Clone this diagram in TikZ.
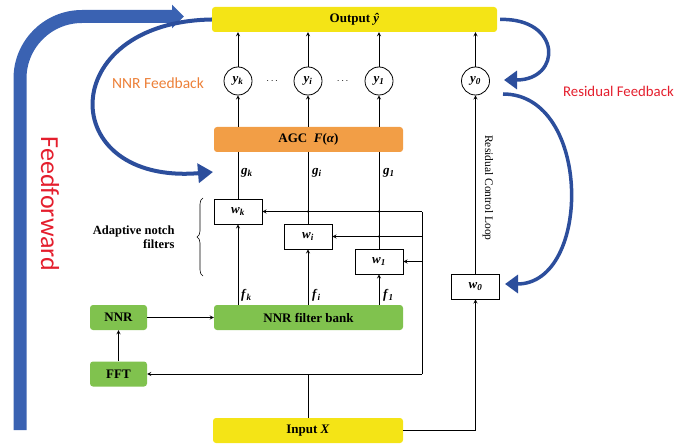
\documentclass[tikz,border=0pt]{standalone}
\usepackage{fontspec}
\setmainfont{Liberation Serif}
\newfontfamily\calibri{Carlito}
\usepackage{amsmath}
\usetikzlibrary{arrows.meta, calc, positioning, decorations.pathreplacing}
\tikzset{>=stealth}
\definecolor{ffblue}{RGB}{58,98,178}
\definecolor{fbblue}{RGB}{44,78,156}
\definecolor{boxyellow}{RGB}{244,228,22}
\definecolor{agcorange}{RGB}{242,158,70}
\definecolor{bankgreen}{RGB}{128,194,78}
\definecolor{nnrorange}{RGB}{236,128,56}
\definecolor{resred}{RGB}{228,30,45}
\newcommand{\vsub}[2]{\textit{#1}\textsubscript{\textit{#2}}}
\tikzset{
  bar/.style={rounded corners=3pt, minimum height=25pt, inner sep=0pt, font=\fontsize{13}{15}\selectfont\bfseries},
  wbox/.style={draw, line width=0.8pt, minimum width=48pt, minimum height=25pt, inner sep=0pt, font=\fontsize{13}{15}\selectfont\bfseries},
  ycirc/.style={draw, line width=0.8pt, circle, minimum size=28pt, inner sep=0pt, font=\fontsize{13}{15}\selectfont\bfseries},
  lbl/.style={inner sep=0pt, font=\fontsize{13}{15}\selectfont\bfseries},
  sig/.style={->, line width=0.8pt},
  wire/.style={line width=0.8pt},
  bigarrow/.style={fbblue, line width=3.5pt, -{Triangle[length=13pt,width=18pt]}}
}

\begin{document}
\begin{tikzpicture}[x=1pt, y=-1pt]
\useasboundingbox (0,0) rectangle (676,446);

% boxes
\node[bar, fill=boxyellow, minimum width=285pt] (out) at (354.5,19.5) {Output \textit{ŷ}};
\node[bar, fill=agcorange, minimum width=189pt] (agc) at (308.5,139.5) {AGC\ \ \textit{F}(\textit{α})};
\node[bar, fill=bankgreen, minimum width=189pt] (bank) at (308.5,317.5) {NNR filter bank};
\node[bar, fill=bankgreen, minimum width=57pt] (nnr) at (118.5,317.5) {NNR};
\node[bar, fill=bankgreen, minimum width=57pt] (fft) at (118.5,374) {FFT};
\node[bar, fill=boxyellow, minimum width=190pt] (in) at (308,430.5) {Input \textit{X}};

% weights
\node[wbox] (wk) at (238,211.5) {\vsub{w}{k}};
\node[wbox] (wi) at (308,236.5) {\vsub{w}{i}};
\node[wbox] (w1) at (379,261.5) {\vsub{w}{1}};
\node[wbox] (w0) at (475.5,286.5) {\vsub{w}{0}};

% outputs
\node[ycirc] (yk) at (238,81) {\vsub{y}{k}};
\node[ycirc] (yi) at (308,81) {\vsub{y}{i}};
\node[ycirc] (y1) at (379,81) {\vsub{y}{1}};
\node[ycirc] (y0) at (475.5,81) {\vsub{y}{0}};
\node (dots1) at (273,81) {$\cdots$};
\node (dots2) at (343.5,81) {$\cdots$};

\foreach \c in {k,i,1} {
  \draw[sig] (y\c) -- (y\c |- out.south);
  \draw[sig] (y\c |- agc.north) -- (y\c);
  \draw[wire] (w\c.north) -- (w\c.north |- agc.south);
  \draw[sig] (w\c |- bank.north) -- (w\c.south);
}

% g and f labels
\node[lbl, anchor=west] (gk) at (241,173) {\vsub{g}{k}};
\node[lbl, anchor=west] (gi) at (312,173) {\vsub{g}{i}};
\node[lbl, anchor=west] (g1) at (383,173) {\vsub{g}{1}};
\node[lbl, anchor=west] (fk) at (241,295) {\vsub{f}{k}};
\node[lbl, anchor=west] (fi) at (312,295) {\vsub{f}{i}};
\node[lbl, anchor=west] (f1) at (383,295) {\vsub{f}{1}};

% control loop
\coordinate (loop) at (422,374);
\draw[wire] (in.north) -- (in.north |- loop);
\draw[sig] (loop) -- (fft.east);
\draw[wire] (loop) -- (loop |- wk.east);
\foreach \w in {wk,wi,w1}
  \draw[sig] (loop |- \w.east) -- (\w.east);
\fill (wi.north |- wk.east) circle (1.2pt);
\fill (w1.north |- wk.east) circle (1.2pt);
\fill (w1.north |- wi.east) circle (1.2pt);
\draw[sig] (fft) -- (nnr);
\draw[sig] (nnr) -- (bank);

% residual
\draw[sig] (in.east) -| (w0.south);
\draw[sig] (w0) -- (y0);
\draw[sig] (y0) -- (y0 |- out.south);
\node[rotate=-90, font=\fontsize{11.5}{13}\selectfont] (rcl) at (488,188) {Residual Control Loop};

% brace
\draw[decorate, decoration={brace, amplitude=6pt}, line width=0.6pt] (203,276) -- (203,198);
\node[align=right, anchor=east, font=\fontsize{12.5}{13.5}\selectfont\bfseries] (anf) at (178,237) {Adaptive notch\\filters};

% feedforward
\coordinate (ffstart) at (20,430);
\coordinate (ffend) at (184,16.5);
\draw[ffblue, line width=13pt, rounded corners=62pt, -{Triangle[length=12pt,width=23pt]}] (ffstart) |- (ffend);
\node[rotate=-90, text=resred, font=\calibri\fontsize{26}{30}\selectfont] (ff) at (50,204) {Feedforward};

% feedbacks
\coordinate (nnrtip) at (213,172);
\draw[fbblue, line width=4pt, -{Triangle[length=15pt,width=19pt]}] (out.west) .. controls (55,22) and (55,185) .. (nnrtip);
\node[text=nnrorange, font=\calibri\fontsize{15.5}{18}\selectfont] (nnrfb) at (158,83) {NNR Feedback};

\coordinate (res1) at (504,80);
\coordinate (res2) at (503,94);
\coordinate (res3) at (505,284);
\draw[bigarrow, shorten <=3pt] (out.east) .. controls (562,18) and (562,80) .. (res1);
\draw[bigarrow] (res2) .. controls (592,94) and (592,284) .. (res3);
\node[anchor=east, inner sep=1pt, text=resred, font=\calibri\fontsize{14.8}{18}\selectfont] (resfb) at (675,91) {Residual Feedback};
\end{tikzpicture}
\end{document}
